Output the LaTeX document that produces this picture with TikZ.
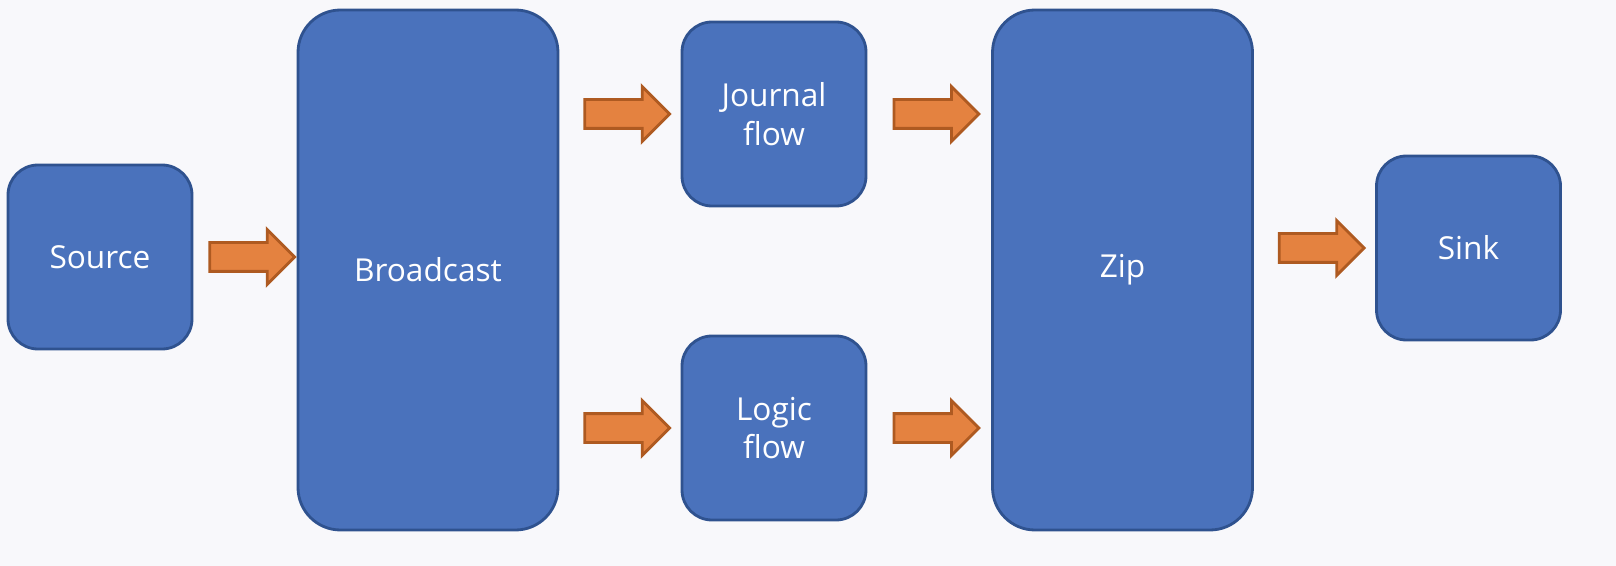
\documentclass[tikz,border=0pt]{standalone}
\usepackage{fontspec}
\setmainfont{Open Sans}
\usetikzlibrary{shapes.arrows,calc}
\definecolor{boxblue}{HTML}{4A72BC}
\definecolor{boxline}{HTML}{2F528F}
\definecolor{arrowfill}{HTML}{E48240}
\definecolor{arrowline}{HTML}{AE5A21}
\definecolor{paper}{HTML}{F8F8FB}
\tikzset{
  block/.style = {draw=boxline, fill=boxblue, line width=1.6pt,
                  rounded corners=0.6cm, text=white, align=center,
                  font=\fontsize{18}{22}\selectfont,
                  minimum width=3.68cm, minimum height=3.68cm},
  big block/.style = {block, rounded corners=0.85cm,
                  minimum width=5.2cm, minimum height=10.4cm},
  flow arrow/.style = {single arrow, draw=arrowline, fill=arrowfill,
                  line width=1.6pt, inner xsep=0pt, inner ysep=0.26cm,
                  single arrow head extend=0.26cm,
                  minimum height=1.7cm},
}
\begin{document}
\begin{tikzpicture}
\fill[paper] (0,0) rectangle (32.32,-11.32);
\useasboundingbox (0,0) rectangle (32.32,-11.32);
% boxes
\node[block] (src) at (2.0,-5.14) {Source};
\node[big block] (bc) at (8.56,-5.4) {Broadcast};
\node[block] (jf) at (15.48,-2.28) {Journal\\flow};
\node[block] (lf) at (15.48,-8.56) {Logic\\flow};
\node[big block] (zip) at (22.45,-5.4) {Zip};
\node[block] (snk) at (29.37,-4.96) {Sink};
% arrows
\node[flow arrow] (a1) at ($(src.east)!.5!(src.east -| bc.west)$) {};
\node[flow arrow] (a2) at ($(bc.east |- jf.west)!.5!(jf.west)$) {};
\node[flow arrow] (a3) at ($(bc.east |- lf.west)!.5!(lf.west)$) {};
\node[flow arrow] (a4) at ($(jf.east)!.5!(jf.east -| zip.west)$) {};
\node[flow arrow] (a5) at ($(lf.east)!.5!(lf.east -| zip.west)$) {};
\node[flow arrow] (a6) at ($(zip.east |- snk.west)!.5!(snk.west)$) {};
\end{tikzpicture}
\end{document}
